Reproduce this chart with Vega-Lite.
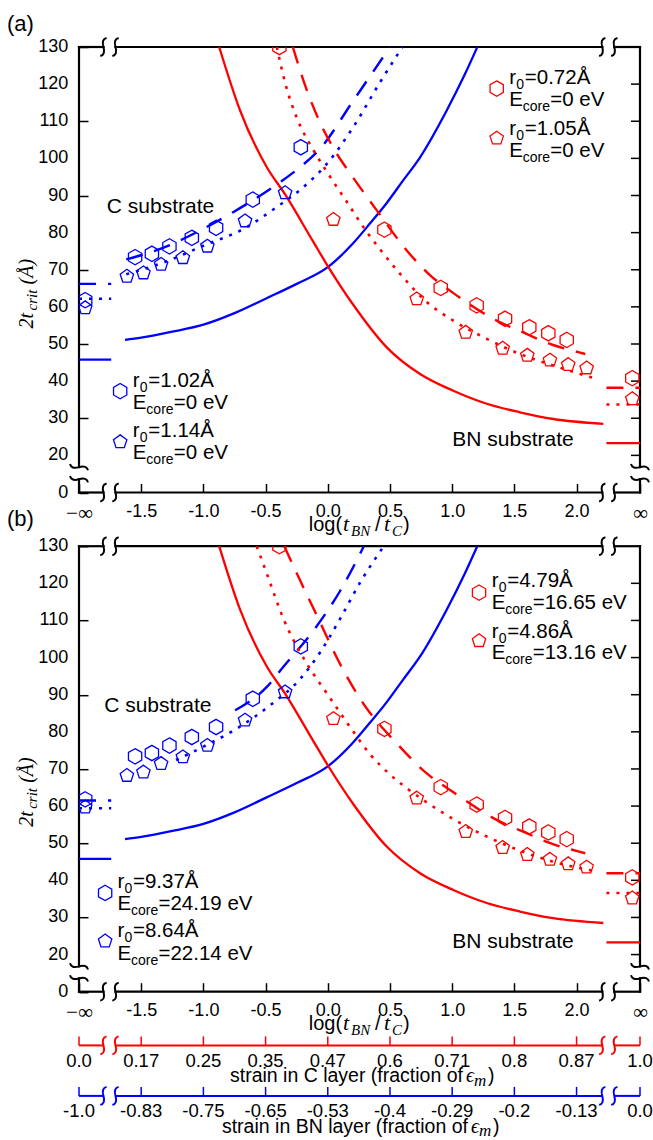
{
"$schema": "https://vega.github.io/schema/vega-lite/v6.json",
"autosize": {"type": "none"},
"padding": {"left": 79, "top": 47, "right": 574, "bottom": 1093},
"background": "white",
"config": {"view": {"stroke": null}},
"datasets": {
"frame": [
{"x1":-2,"x2":-1.803,"y1":10,"y2":10},{"x1":-1.707,"x2":2.207,"y1":10,"y2":10},{"x1":2.303,"x2":2.51,"y1":10,"y2":10},
{"x1":-2,"x2":-1.803,"y1":130,"y2":130},{"x1":-1.707,"x2":2.207,"y1":130,"y2":130},{"x1":2.303,"x2":2.51,"y1":130,"y2":130},
{"x1":-2,"x2":-2,"y1":10,"y2":13.6},{"x1":-2,"x2":-2,"y1":16.8,"y2":130},
{"x1":2.51,"x2":2.51,"y1":10,"y2":13.6},{"x1":2.51,"x2":2.51,"y1":16.8,"y2":130}],
"breaks": [{"x":-1.755,"y":10,"o":"h"},{"x":2.255,"y":10,"o":"h"},{"x":-1.755,"y":130,"o":"h"},{"x":2.255,"y":130,"o":"h"},{"x":-2,"y":15.2,"o":"v"},{"x":2.51,"y":15.2,"o":"v"}],
"rticks": [{"y":20},{"y":30},{"y":40},{"y":50},{"y":60},{"y":70},{"y":80},{"y":90},{"y":100},{"y":110},{"y":120}],
"ylab": [{"v":10,"t":"0"},{"v":20,"t":"20"},{"v":30,"t":"30"},{"v":40,"t":"40"},{"v":50,"t":"50"},{"v":60,"t":"60"},{"v":70,"t":"70"},{"v":80,"t":"80"},{"v":90,"t":"90"},{"v":100,"t":"100"},{"v":110,"t":"110"},{"v":120,"t":"120"},{"v":130,"t":"130"}],
"curves": [
{"p":"ab","s":"Cs","g":"C","st":"solid","x":-1.63,"y":51.1},{"p":"ab","s":"Cs","g":"C","st":"solid","x":-1.5,"y":51.7},{"p":"ab","s":"Cs","g":"C","st":"solid","x":-1.25,"y":53.3},{"p":"ab","s":"Cs","g":"C","st":"solid","x":-1.0,"y":55.2},{"p":"ab","s":"Cs","g":"C","st":"solid","x":-0.75,"y":58.3},{"p":"ab","s":"Cs","g":"C","st":"solid","x":-0.5,"y":62.2},{"p":"ab","s":"Cs","g":"C","st":"solid","x":-0.25,"y":66.2},{"p":"ab","s":"Cs","g":"C","st":"solid","x":0,"y":70.7},{"p":"ab","s":"Cs","g":"C","st":"solid","x":0.2,"y":77.0},{"p":"ab","s":"Cs","g":"C","st":"solid","x":0.34,"y":82.5},{"p":"ab","s":"Cs","g":"C","st":"solid","x":0.474,"y":88.0},{"p":"ab","s":"Cs","g":"C","st":"solid","x":0.6,"y":93.8},{"p":"ab","s":"Cs","g":"C","st":"solid","x":0.742,"y":100.3},{"p":"ab","s":"Cs","g":"C","st":"solid","x":0.956,"y":112.9},{"p":"ab","s":"Cs","g":"C","st":"solid","x":1.1,"y":122.5},{"p":"ab","s":"Cs","g":"C","st":"solid","x":1.202,"y":130},
{"p":"ab","s":"CsL","g":"C","st":"solid","x":-2,"y":45.8},{"p":"ab","s":"CsL","g":"C","st":"solid","x":-1.741,"y":45.8},
{"p":"ab","s":"Bs","g":"BN","st":"solid","x":-0.873,"y":130},{"p":"ab","s":"Bs","g":"BN","st":"solid","x":-0.705,"y":112.9},{"p":"ab","s":"Bs","g":"BN","st":"solid","x":-0.49,"y":97.6},{"p":"ab","s":"Bs","g":"BN","st":"solid","x":-0.343,"y":90.3},{"p":"ab","s":"Bs","g":"BN","st":"solid","x":-0.116,"y":77.5},{"p":"ab","s":"Bs","g":"BN","st":"solid","x":0,"y":71.0},{"p":"ab","s":"Bs","g":"BN","st":"solid","x":0.206,"y":60.5},{"p":"ab","s":"Bs","g":"BN","st":"solid","x":0.474,"y":49.1},{"p":"ab","s":"Bs","g":"BN","st":"solid","x":0.742,"y":41.9},{"p":"ab","s":"Bs","g":"BN","st":"solid","x":1.009,"y":37.4},{"p":"ab","s":"Bs","g":"BN","st":"solid","x":1.278,"y":33.9},{"p":"ab","s":"Bs","g":"BN","st":"solid","x":1.545,"y":31.6},{"p":"ab","s":"Bs","g":"BN","st":"solid","x":1.813,"y":29.8},{"p":"ab","s":"Bs","g":"BN","st":"solid","x":2.215,"y":28.5},
{"p":"ab","s":"BsR","g":"BN","st":"solid","x":2.24,"y":23.3},{"p":"ab","s":"BsR","g":"BN","st":"solid","x":2.51,"y":23.3},
{"p":"a","s":"CdA","g":"C","st":"dash","x":-1.62,"y":72.8},{"p":"a","s":"CdA","g":"C","st":"dash","x":-1.3,"y":76.2},{"p":"a","s":"CdA","g":"C","st":"dash","x":-1.026,"y":80.6},{"p":"a","s":"CdA","g":"C","st":"dash","x":-0.761,"y":85.5},{"p":"a","s":"CdA","g":"C","st":"dash","x":-0.383,"y":93.6},{"p":"a","s":"CdA","g":"C","st":"dash","x":-0.223,"y":97.6},{"p":"a","s":"CdA","g":"C","st":"dash","x":-0.062,"y":102.6},{"p":"a","s":"CdA","g":"C","st":"dash","x":0.206,"y":115.6},{"p":"a","s":"CdA","g":"C","st":"dash","x":0.5,"y":130},
{"p":"a","s":"CdLA","g":"C","st":"dash","x":-2,"y":66.2},{"p":"a","s":"CdLA","g":"C","st":"dash","x":-1.741,"y":66.2},
{"p":"a","s":"CtA","g":"C","st":"dot","x":-1.62,"y":68.8},{"p":"a","s":"CtA","g":"C","st":"dot","x":-1.3,"y":72.2},{"p":"a","s":"CtA","g":"C","st":"dot","x":-1.026,"y":76.1},{"p":"a","s":"CtA","g":"C","st":"dot","x":-0.651,"y":81.5},{"p":"a","s":"CtA","g":"C","st":"dot","x":-0.41,"y":86.9},{"p":"a","s":"CtA","g":"C","st":"dot","x":-0.223,"y":91.5},{"p":"a","s":"CtA","g":"C","st":"dot","x":-0.008,"y":98.5},{"p":"a","s":"CtA","g":"C","st":"dot","x":0.206,"y":108.5},{"p":"a","s":"CtA","g":"C","st":"dot","x":0.42,"y":120.5},{"p":"a","s":"CtA","g":"C","st":"dot","x":0.6,"y":130},
{"p":"a","s":"CtLA","g":"C","st":"dot","x":-2,"y":62.2},{"p":"a","s":"CtLA","g":"C","st":"dot","x":-1.741,"y":62.2},
{"p":"a","s":"BdA","g":"BN","st":"dash","x":-0.281,"y":130},{"p":"a","s":"BdA","g":"BN","st":"dash","x":-0.17,"y":118.5},{"p":"a","s":"BdA","g":"BN","st":"dash","x":-0.06,"y":109.5},{"p":"a","s":"BdA","g":"BN","st":"dash","x":0.05,"y":102.5},{"p":"a","s":"BdA","g":"BN","st":"dash","x":0.2,"y":95},{"p":"a","s":"BdA","g":"BN","st":"dash","x":0.394,"y":86},{"p":"a","s":"BdA","g":"BN","st":"dash","x":0.635,"y":75.2},{"p":"a","s":"BdA","g":"BN","st":"dash","x":0.81,"y":68.9},{"p":"a","s":"BdA","g":"BN","st":"dash","x":1.01,"y":63.7},{"p":"a","s":"BdA","g":"BN","st":"dash","x":1.358,"y":56.3},{"p":"a","s":"BdA","g":"BN","st":"dash","x":1.585,"y":52.9},{"p":"a","s":"BdA","g":"BN","st":"dash","x":1.805,"y":49.8},{"p":"a","s":"BdA","g":"BN","st":"dash","x":2.014,"y":47.8},{"p":"a","s":"BdA","g":"BN","st":"dash","x":2.07,"y":47.3},
{"p":"a","s":"BdRA","g":"BN","st":"dash","x":2.24,"y":38.2},{"p":"a","s":"BdRA","g":"BN","st":"dash","x":2.51,"y":38.2},
{"p":"a","s":"BtA","g":"BN","st":"dot","x":-0.41,"y":130},{"p":"a","s":"BtA","g":"BN","st":"dot","x":-0.34,"y":120},{"p":"a","s":"BtA","g":"BN","st":"dot","x":-0.25,"y":111},{"p":"a","s":"BtA","g":"BN","st":"dot","x":-0.12,"y":102.5},{"p":"a","s":"BtA","g":"BN","st":"dot","x":0,"y":96},{"p":"a","s":"BtA","g":"BN","st":"dot","x":0.153,"y":88.3},{"p":"a","s":"BtA","g":"BN","st":"dot","x":0.286,"y":81.5},{"p":"a","s":"BtA","g":"BN","st":"dot","x":0.42,"y":75.5},{"p":"a","s":"BtA","g":"BN","st":"dot","x":0.581,"y":68.9},{"p":"a","s":"BtA","g":"BN","st":"dot","x":0.796,"y":61.3},{"p":"a","s":"BtA","g":"BN","st":"dot","x":1.009,"y":56.3},{"p":"a","s":"BtA","g":"BN","st":"dot","x":1.278,"y":51.4},{"p":"a","s":"BtA","g":"BN","st":"dot","x":1.545,"y":47.3},{"p":"a","s":"BtA","g":"BN","st":"dot","x":1.813,"y":44.2},{"p":"a","s":"BtA","g":"BN","st":"dot","x":2.162,"y":40.6},
{"p":"a","s":"BtRA","g":"BN","st":"dot","x":2.24,"y":33.7},{"p":"a","s":"BtRA","g":"BN","st":"dot","x":2.51,"y":33.7},
{"p":"b","s":"CdB","g":"C","st":"dash","x":-0.745,"y":85.8},{"p":"b","s":"CdB","g":"C","st":"dash","x":-0.49,"y":92.1},{"p":"b","s":"CdB","g":"C","st":"dash","x":-0.357,"y":97.5},{"p":"b","s":"CdB","g":"C","st":"dash","x":-0.088,"y":108.5},{"p":"b","s":"CdB","g":"C","st":"dash","x":0.1,"y":118},{"p":"b","s":"CdB","g":"C","st":"dash","x":0.29,"y":130},
{"p":"b","s":"CdLB","g":"C","st":"dash","x":-2,"y":61.5},{"p":"b","s":"CdLB","g":"C","st":"dash","x":-1.741,"y":61.5},
{"p":"b","s":"CtB","g":"C","st":"dot","x":-1.22,"y":72.4},{"p":"b","s":"CtB","g":"C","st":"dot","x":-1.0,"y":76},{"p":"b","s":"CtB","g":"C","st":"dot","x":-0.75,"y":80.5},{"p":"b","s":"CtB","g":"C","st":"dot","x":-0.45,"y":87.5},{"p":"b","s":"CtB","g":"C","st":"dot","x":-0.22,"y":94.3},{"p":"b","s":"CtB","g":"C","st":"dot","x":-0.06,"y":101.5},{"p":"b","s":"CtB","g":"C","st":"dot","x":0.1,"y":110.5},{"p":"b","s":"CtB","g":"C","st":"dot","x":0.265,"y":120.5},{"p":"b","s":"CtB","g":"C","st":"dot","x":0.45,"y":130},
{"p":"b","s":"CtLB","g":"C","st":"dot","x":-2,"y":59.4},{"p":"b","s":"CtLB","g":"C","st":"dot","x":-1.741,"y":59.4},
{"p":"b","s":"BdB","g":"BN","st":"dash","x":-0.35,"y":130},{"p":"b","s":"BdB","g":"BN","st":"dash","x":-0.223,"y":120.8},{"p":"b","s":"BdB","g":"BN","st":"dash","x":-0.062,"y":109.5},{"p":"b","s":"BdB","g":"BN","st":"dash","x":0.072,"y":100},{"p":"b","s":"BdB","g":"BN","st":"dash","x":0.286,"y":87.6},{"p":"b","s":"BdB","g":"BN","st":"dash","x":0.554,"y":76.9},{"p":"b","s":"BdB","g":"BN","st":"dash","x":0.796,"y":68.8},{"p":"b","s":"BdB","g":"BN","st":"dash","x":1.01,"y":63.7},{"p":"b","s":"BdB","g":"BN","st":"dash","x":1.358,"y":56.3},{"p":"b","s":"BdB","g":"BN","st":"dash","x":1.585,"y":52.9},{"p":"b","s":"BdB","g":"BN","st":"dash","x":1.805,"y":49.8},{"p":"b","s":"BdB","g":"BN","st":"dash","x":2.014,"y":47.8},{"p":"b","s":"BdB","g":"BN","st":"dash","x":2.07,"y":47.3},
{"p":"b","s":"BdRB","g":"BN","st":"dash","x":2.24,"y":41.9},{"p":"b","s":"BdRB","g":"BN","st":"dash","x":2.51,"y":41.9},
{"p":"b","s":"BtB","g":"BN","st":"dot","x":-0.571,"y":130},{"p":"b","s":"BtB","g":"BN","st":"dot","x":-0.49,"y":122.6},{"p":"b","s":"BtB","g":"BN","st":"dot","x":-0.357,"y":110.5},{"p":"b","s":"BtB","g":"BN","st":"dot","x":-0.169,"y":98.4},{"p":"b","s":"BtB","g":"BN","st":"dot","x":0,"y":90},{"p":"b","s":"BtB","g":"BN","st":"dot","x":0.179,"y":81.3},{"p":"b","s":"BtB","g":"BN","st":"dot","x":0.339,"y":74},{"p":"b","s":"BtB","g":"BN","st":"dot","x":0.5,"y":68.5},{"p":"b","s":"BtB","g":"BN","st":"dot","x":0.635,"y":64.8},{"p":"b","s":"BtB","g":"BN","st":"dot","x":0.796,"y":61},{"p":"b","s":"BtB","g":"BN","st":"dot","x":1.009,"y":56.5},{"p":"b","s":"BtB","g":"BN","st":"dot","x":1.278,"y":51.8},{"p":"b","s":"BtB","g":"BN","st":"dot","x":1.545,"y":48},{"p":"b","s":"BtB","g":"BN","st":"dot","x":1.813,"y":45},{"p":"b","s":"BtB","g":"BN","st":"dot","x":2.162,"y":42.4},
{"p":"b","s":"BtRB","g":"BN","st":"dot","x":2.24,"y":36.6},{"p":"b","s":"BtRB","g":"BN","st":"dot","x":2.51,"y":36.6}
],
"pts": [
{"g":"C","sh":"hex","x":-1.549,"y":73.4},{"g":"C","sh":"hex","x":-1.414,"y":74.3},{"g":"C","sh":"hex","x":-1.273,"y":76.3},{"g":"C","sh":"hex","x":-1.093,"y":78.6},{"g":"C","sh":"hex","x":-0.898,"y":81.3},{"g":"C","sh":"hex","x":-0.603,"y":88.9},{"g":"C","sh":"hex","x":-0.217,"y":103.0},{"g":"C","sh":"hex","x":-1.95,"y":61.8},
{"g":"C","sh":"pent","x":-1.615,"y":68.4},{"g":"C","sh":"pent","x":-1.482,"y":69.3},{"g":"C","sh":"pent","x":-1.34,"y":71.6},{"g":"C","sh":"pent","x":-1.165,"y":73.4},{"g":"C","sh":"pent","x":-0.968,"y":76.5},{"g":"C","sh":"pent","x":-0.665,"y":83.3},{"g":"C","sh":"pent","x":-0.343,"y":90.9},{"g":"C","sh":"pent","x":-1.95,"y":59.9},
{"g":"BN","sh":"hex","x":-0.389,"y":130},{"g":"BN","sh":"hex","x":0.455,"y":80.8},{"g":"BN","sh":"hex","x":0.908,"y":65.1},{"g":"BN","sh":"hex","x":1.197,"y":60.4},{"g":"BN","sh":"hex","x":1.425,"y":56.8},{"g":"BN","sh":"hex","x":1.62,"y":54.5},{"g":"BN","sh":"hex","x":1.773,"y":52.9},{"g":"BN","sh":"hex","x":1.921,"y":51.1},{"g":"BN","sh":"hex","x":2.448,"y":40.8},
{"g":"BN","sh":"pent","x":0.045,"y":83.7},{"g":"BN","sh":"pent","x":0.715,"y":62.3},{"g":"BN","sh":"pent","x":1.109,"y":53.3},{"g":"BN","sh":"pent","x":1.406,"y":49.0},{"g":"BN","sh":"pent","x":1.604,"y":47.1},{"g":"BN","sh":"pent","x":1.786,"y":45.8},{"g":"BN","sh":"pent","x":1.933,"y":44.6},{"g":"BN","sh":"pent","x":2.081,"y":43.7},{"g":"BN","sh":"pent","x":2.448,"y":35.4}
],
"lgm": [
{"p":"a","g":"BN","sh":"hex","x":1.358,"y":118.8},{"p":"a","g":"BN","sh":"pent","x":1.358,"y":105.6},{"p":"a","g":"C","sh":"hex","x":-1.669,"y":37.3},{"p":"a","g":"C","sh":"pent","x":-1.669,"y":23.8},
{"p":"b","g":"BN","sh":"hex","x":1.216,"y":117.5},{"p":"b","g":"BN","sh":"pent","x":1.216,"y":104.7},{"p":"b","g":"C","sh":"hex","x":-1.79,"y":36.6},{"p":"b","g":"C","sh":"pent","x":-1.79,"y":23.8}
],
"lgt": [
{"p":"a","ln":1,"x":1.459,"y":120.1,"pre":"r","sb":"0","rest":"=0.72Å"},{"p":"a","ln":2,"x":1.459,"y":114.0,"pre":"E","sb":"core","rest":"=0 eV"},
{"p":"a","ln":1,"x":1.459,"y":106.2,"pre":"r","sb":"0","rest":"=1.05Å"},{"p":"a","ln":2,"x":1.459,"y":100.4,"pre":"E","sb":"core","rest":"=0 eV"},
{"p":"a","ln":1,"x":-1.567,"y":38.4,"pre":"r","sb":"0","rest":"=1.02Å"},{"p":"a","ln":2,"x":-1.567,"y":32.5,"pre":"E","sb":"core","rest":"=0 eV"},
{"p":"a","ln":1,"x":-1.567,"y":24.9,"pre":"r","sb":"0","rest":"=1.14Å"},{"p":"a","ln":2,"x":-1.567,"y":19.0,"pre":"E","sb":"core","rest":"=0 eV"},
{"p":"b","ln":1,"x":1.318,"y":119.0,"pre":"r","sb":"0","rest":"=4.79Å"},{"p":"b","ln":2,"x":1.318,"y":113.2,"pre":"E","sb":"core","rest":"=16.65 eV"},
{"p":"b","ln":1,"x":1.318,"y":105.4,"pre":"r","sb":"0","rest":"=4.86Å"},{"p":"b","ln":2,"x":1.318,"y":99.5,"pre":"E","sb":"core","rest":"=13.16 eV"},
{"p":"b","ln":1,"x":-1.691,"y":37.9,"pre":"r","sb":"0","rest":"=9.37Å"},{"p":"b","ln":2,"x":-1.691,"y":32.1,"pre":"E","sb":"core","rest":"=24.19 eV"},
{"p":"b","ln":1,"x":-1.691,"y":24.7,"pre":"r","sb":"0","rest":"=8.64Å"},{"p":"b","ln":2,"x":-1.691,"y":18.6,"pre":"E","sb":"core","rest":"=22.14 eV"}
],
"notes": [{"p":"a","x":-1.776,"y":85.4,"t":"C substrate"},{"p":"a","x":1.001,"y":22.4,"t":"BN substrate"},{"p":"b","x":-1.798,"y":85.4,"t":"C substrate"},{"p":"b","x":1.001,"y":21.8,"t":"BN substrate"}],
"sline": [{"x1":-2,"x2":-1.803},{"x1":-1.707,"x2":2.207},{"x1":2.303,"x2":2.51}],
"sbreak": [{"x":-1.755},{"x":2.255}],
"sticks": [{"x":-2,"c":"0.0","bn":"-1.0"},{"x":-1.5,"c":"0.17","bn":"-0.83"},{"x":-1,"c":"0.25","bn":"-0.75"},{"x":-0.5,"c":"0.35","bn":"-0.65"},{"x":0,"c":"0.47","bn":"-0.53"},{"x":0.5,"c":"0.6","bn":"-0.4"},{"x":1,"c":"0.71","bn":"-0.29"},{"x":1.5,"c":"0.8","bn":"-0.2"},{"x":2,"c":"0.87","bn":"-0.13"},{"x":2.51,"c":"1.0","bn":"0.0"}],
"one": [{}]
},
"vconcat": [
{"width": 561, "height": 445.5,
"layer": [
{"data":{"name":"frame"},"mark":{"type":"rule","color":"#000000","strokeWidth":2.2,"strokeCap":"square"},
"encoding":{
"x":{"field":"x1","type":"quantitative","scale":{"domain":[-2,2.51],"nice":false,"zero":false},
"axis":{"values":[-2,-1.5,-1,-0.5,0,0.5,1,1.5,2,2.51],"labelExpr":"datum.value < -1.9 ? '−∞' : datum.value > 2.4 ? '∞' : (datum.value < 0 ? '-' : '') + format(abs(datum.value), '.1f')","title":null,"domain":false,"grid":false,"tickSize":-9,"tickWidth":1.5,"tickColor":"#000000","labelFlush":false,"labelOverlap":false,"labelPadding":18.5,"labelFont":{"condition":{"test":"datum.value < -1.9 || datum.value > 2.4","value":"Liberation Serif"},"value":"Liberation Sans"},"labelFontSize":{"condition":{"test":"datum.value < -1.9 || datum.value > 2.4","value":21},"value":18},"labelColor":"#000000"}},
"x2":{"field":"x2"},
"y":{"field":"y1","type":"quantitative","scale":{"domain":[10,130],"nice":false,"zero":false},
"axis":{"values":[10,20,30,40,50,60,70,80,90,100,110,120,130],"labels":false,"title":null,"domain":false,"grid":false,"tickSize":-9,"tickWidth":1.5,"tickColor":"#000000"}},
"y2":{"field":"y2"}}},
{"data":{"name":"ylab"},"mark":{"type":"text","align":"right","baseline":"middle","dx":-10.7,"font":"Liberation Sans","fontSize":18,"color":"#000000"},"encoding":{"x":{"datum":-2},"y":{"field":"v","type":"quantitative"},"text":{"field":"t"}}},
{"data":{"name":"rticks"},"mark":{"type":"rule","color":"#000000","strokeWidth":1.5,"x2Offset":-9},"encoding":{"x":{"datum":2.51},"x2":{"datum":2.51},"y":{"field":"y","type":"quantitative"}}},
{"data":{"name":"curves"},"transform":[{"filter":"indexof(datum.p,'a')>=0 && datum.st=='solid'"}],"mark":{"type":"line","strokeWidth":2.3,"interpolate":"monotone"},
"encoding":{"x":{"field":"x","type":"quantitative"},"y":{"field":"y","type":"quantitative"},"color":{"field":"g","type":"nominal","scale":{"domain":["C","BN"],"range":["#0000ff","#ff0000"]},"legend":null},"detail":{"field":"s"}}},
{"data":{"name":"curves"},"transform":[{"filter":"indexof(datum.p,'a')>=0 && datum.st=='dash'"}],"mark":{"type":"line","strokeWidth":2.4,"strokeDash":[17,12],"interpolate":"monotone"},
"encoding":{"x":{"field":"x","type":"quantitative"},"y":{"field":"y","type":"quantitative"},"color":{"field":"g","type":"nominal","scale":{"domain":["C","BN"],"range":["#0000ff","#ff0000"]},"legend":null},"detail":{"field":"s"}}},
{"data":{"name":"curves"},"transform":[{"filter":"indexof(datum.p,'a')>=0 && datum.st=='dot'"}],"mark":{"type":"line","strokeWidth":2.6,"strokeDash":[3,7],"interpolate":"monotone"},
"encoding":{"x":{"field":"x","type":"quantitative"},"y":{"field":"y","type":"quantitative"},"color":{"field":"g","type":"nominal","scale":{"domain":["C","BN"],"range":["#0000ff","#ff0000"]},"legend":null},"detail":{"field":"s"}}},
{"data":{"name":"pts"},"mark":{"type":"point","filled":false,"strokeWidth":1.3,"size":235,"opacity":1,"clip":true},
"encoding":{"x":{"field":"x","type":"quantitative"},"y":{"field":"y","type":"quantitative"},"color":{"field":"g","type":"nominal","scale":{"domain":["C","BN"],"range":["#0000ff","#ff0000"]},"legend":null},
"shape":{"field":"sh","type":"nominal","scale":{"domain":["hex","pent"],"range":["M0,-1L0.866,-0.5L0.866,0.5L0,1L-0.866,0.5L-0.866,-0.5Z","M0,-0.832L0.875,-0.196L0.541,0.832L-0.541,0.832L-0.875,-0.196Z"]},"legend":null}}},
{"data":{"name":"lgm"},"transform":[{"filter":"datum.p=='a'"}],"mark":{"type":"point","filled":false,"strokeWidth":1.3,"size":235,"opacity":1},
"encoding":{"x":{"field":"x","type":"quantitative"},"y":{"field":"y","type":"quantitative"},"color":{"field":"g","type":"nominal","scale":{"domain":["C","BN"],"range":["#0000ff","#ff0000"]},"legend":null},
"shape":{"field":"sh","type":"nominal","scale":{"domain":["hex","pent"],"range":["M0,-1L0.866,-0.5L0.866,0.5L0,1L-0.866,0.5L-0.866,-0.5Z","M0,-0.832L0.875,-0.196L0.541,0.832L-0.541,0.832L-0.875,-0.196Z"]},"legend":null}}},
{"data":{"name":"lgt"},"transform":[{"filter":"datum.p=='a'"}],"mark":{"type":"text","align":"left","baseline":"alphabetic","font":"Liberation Sans","fontSize":20.5,"color":"#000000"},"encoding":{"x":{"field":"x","type":"quantitative"},"y":{"field":"y","type":"quantitative"},"text":{"field":"pre"}}},
{"data":{"name":"lgt"},"transform":[{"filter":"datum.p=='a' && datum.ln==1"}],"mark":{"type":"text","align":"left","baseline":"alphabetic","dx":7,"dy":5,"font":"Liberation Sans","fontSize":14,"color":"#000000"},"encoding":{"x":{"field":"x","type":"quantitative"},"y":{"field":"y","type":"quantitative"},"text":{"field":"sb"}}},
{"data":{"name":"lgt"},"transform":[{"filter":"datum.p=='a' && datum.ln==1"}],"mark":{"type":"text","align":"left","baseline":"alphabetic","dx":15.5,"font":"Liberation Sans","fontSize":20.5,"color":"#000000"},"encoding":{"x":{"field":"x","type":"quantitative"},"y":{"field":"y","type":"quantitative"},"text":{"field":"rest"}}},
{"data":{"name":"lgt"},"transform":[{"filter":"datum.p=='a' && datum.ln==2"}],"mark":{"type":"text","align":"left","baseline":"alphabetic","dx":13.5,"dy":5,"font":"Liberation Sans","fontSize":14,"color":"#000000"},"encoding":{"x":{"field":"x","type":"quantitative"},"y":{"field":"y","type":"quantitative"},"text":{"field":"sb"}}},
{"data":{"name":"lgt"},"transform":[{"filter":"datum.p=='a' && datum.ln==2"}],"mark":{"type":"text","align":"left","baseline":"alphabetic","dx":41,"font":"Liberation Sans","fontSize":20.5,"color":"#000000"},"encoding":{"x":{"field":"x","type":"quantitative"},"y":{"field":"y","type":"quantitative"},"text":{"field":"rest"}}},
{"data":{"name":"notes"},"transform":[{"filter":"datum.p=='a'"}],"mark":{"type":"text","align":"left","baseline":"alphabetic","font":"Liberation Sans","fontSize":21,"color":"#000000"},"encoding":{"x":{"field":"x","type":"quantitative"},"y":{"field":"y","type":"quantitative"},"text":{"field":"t"}}},
{"data":{"name":"breaks"},"transform":[{"filter":"datum.o=='h'"}],"mark":{"type":"point","shape":"M1.02,-1Q0.42,-0.85,0.67,0Q0.92,0.85,0.32,1M-0.32,-1Q-0.92,-0.85,-0.67,0Q-0.42,0.85,-1.02,1","filled":false,"stroke":"#000000","strokeWidth":2,"size":324,"opacity":1},"encoding":{"x":{"field":"x","type":"quantitative"},"y":{"field":"y","type":"quantitative"}}},
{"data":{"name":"breaks"},"transform":[{"filter":"datum.o=='v'"}],"mark":{"type":"point","angle":90,"shape":"M1.02,-1Q0.42,-0.85,0.67,0Q0.92,0.85,0.32,1M-0.32,-1Q-0.92,-0.85,-0.67,0Q-0.42,0.85,-1.02,1","filled":false,"stroke":"#000000","strokeWidth":2,"size":324,"opacity":1},"encoding":{"x":{"field":"x","type":"quantitative"},"y":{"field":"y","type":"quantitative"}}},
{"data":{"name":"one"},"mark":{"type":"text","text":"(a)","align":"left","baseline":"middle","dx":-72,"dy":-23,"font":"Liberation Sans","fontSize":22,"color":"#000000"},"encoding":{"x":{"datum":-2},"y":{"datum":130}}},
{"data":{"name":"one"},"mark":{"type":"text","text":"2t","angle":270,"align":"left","baseline":"middle","dy":-52,"font":"Liberation Serif","fontStyle":"italic","fontSize":20,"color":"#000000"},"encoding":{"x":{"datum":-2},"y":{"datum":54.2}}},
{"data":{"name":"one"},"mark":{"type":"text","text":"crit","angle":270,"align":"left","baseline":"middle","dx":18,"dy":-47,"font":"Liberation Serif","fontStyle":"italic","fontSize":15,"color":"#000000"},"encoding":{"x":{"datum":-2},"y":{"datum":54.2}}},
{"data":{"name":"one"},"mark":{"type":"text","text":"(Å)","angle":270,"align":"left","baseline":"middle","dx":44,"dy":-52,"font":"Liberation Serif","fontStyle":"italic","fontSize":20,"color":"#000000"},"encoding":{"x":{"datum":-2},"y":{"datum":54.2}}},
{"data":{"name":"one"},"mark":{"type":"text","text":"log(","align":"right","baseline":"alphabetic","dy":38,"font":"Liberation Sans","fontSize":20,"color":"#000000"},"encoding":{"x":{"datum":0.115},"y":{"datum":10}}},
{"data":{"name":"one"},"mark":{"type":"text","text":"t","align":"left","baseline":"alphabetic","dx":1,"dy":38,"font":"Liberation Serif","fontStyle":"italic","fontSize":22,"color":"#000000"},"encoding":{"x":{"datum":0.115},"y":{"datum":10}}},
{"data":{"name":"one"},"mark":{"type":"text","text":"BN","align":"left","baseline":"alphabetic","dx":9,"dy":43,"font":"Liberation Serif","fontStyle":"italic","fontSize":15,"color":"#000000"},"encoding":{"x":{"datum":0.115},"y":{"datum":10}}},
{"data":{"name":"one"},"mark":{"type":"text","text":"/","align":"left","baseline":"alphabetic","dx":33,"dy":38,"font":"Liberation Sans","fontSize":20,"color":"#000000"},"encoding":{"x":{"datum":0.115},"y":{"datum":10}}},
{"data":{"name":"one"},"mark":{"type":"text","text":"t","align":"left","baseline":"alphabetic","dx":42,"dy":38,"font":"Liberation Serif","fontStyle":"italic","fontSize":22,"color":"#000000"},"encoding":{"x":{"datum":0.115},"y":{"datum":10}}},
{"data":{"name":"one"},"mark":{"type":"text","text":"C","align":"left","baseline":"alphabetic","dx":50,"dy":43,"font":"Liberation Serif","fontStyle":"italic","fontSize":15,"color":"#000000"},"encoding":{"x":{"datum":0.115},"y":{"datum":10}}},
{"data":{"name":"one"},"mark":{"type":"text","text":")","align":"left","baseline":"alphabetic","dx":61,"dy":38,"font":"Liberation Sans","fontSize":20,"color":"#000000"},"encoding":{"x":{"datum":0.115},"y":{"datum":10}}}
]},
{"width": 561, "height": 445.5,
"layer": [
{"data":{"name":"frame"},"mark":{"type":"rule","color":"#000000","strokeWidth":2.2,"strokeCap":"square"},
"encoding":{
"x":{"field":"x1","type":"quantitative","scale":{"domain":[-2,2.51],"nice":false,"zero":false},
"axis":{"values":[-2,-1.5,-1,-0.5,0,0.5,1,1.5,2,2.51],"labelExpr":"datum.value < -1.9 ? '−∞' : datum.value > 2.4 ? '∞' : (datum.value < 0 ? '-' : '') + format(abs(datum.value), '.1f')","title":null,"domain":false,"grid":false,"tickSize":-9,"tickWidth":1.5,"tickColor":"#000000","labelFlush":false,"labelOverlap":false,"labelPadding":18.5,"labelFont":{"condition":{"test":"datum.value < -1.9 || datum.value > 2.4","value":"Liberation Serif"},"value":"Liberation Sans"},"labelFontSize":{"condition":{"test":"datum.value < -1.9 || datum.value > 2.4","value":21},"value":18},"labelColor":"#000000"}},
"x2":{"field":"x2"},
"y":{"field":"y1","type":"quantitative","scale":{"domain":[10,130],"nice":false,"zero":false},
"axis":{"values":[10,20,30,40,50,60,70,80,90,100,110,120,130],"labels":false,"title":null,"domain":false,"grid":false,"tickSize":-9,"tickWidth":1.5,"tickColor":"#000000"}},
"y2":{"field":"y2"}}},
{"data":{"name":"ylab"},"mark":{"type":"text","align":"right","baseline":"middle","dx":-10.7,"font":"Liberation Sans","fontSize":18,"color":"#000000"},"encoding":{"x":{"datum":-2},"y":{"field":"v","type":"quantitative"},"text":{"field":"t"}}},
{"data":{"name":"rticks"},"mark":{"type":"rule","color":"#000000","strokeWidth":1.5,"x2Offset":-9},"encoding":{"x":{"datum":2.51},"x2":{"datum":2.51},"y":{"field":"y","type":"quantitative"}}},
{"data":{"name":"curves"},"transform":[{"filter":"indexof(datum.p,'b')>=0 && datum.st=='solid'"}],"mark":{"type":"line","strokeWidth":2.3,"interpolate":"monotone"},
"encoding":{"x":{"field":"x","type":"quantitative"},"y":{"field":"y","type":"quantitative"},"color":{"field":"g","type":"nominal","scale":{"domain":["C","BN"],"range":["#0000ff","#ff0000"]},"legend":null},"detail":{"field":"s"}}},
{"data":{"name":"curves"},"transform":[{"filter":"indexof(datum.p,'b')>=0 && datum.st=='dash'"}],"mark":{"type":"line","strokeWidth":2.4,"strokeDash":[17,12],"interpolate":"monotone"},
"encoding":{"x":{"field":"x","type":"quantitative"},"y":{"field":"y","type":"quantitative"},"color":{"field":"g","type":"nominal","scale":{"domain":["C","BN"],"range":["#0000ff","#ff0000"]},"legend":null},"detail":{"field":"s"}}},
{"data":{"name":"curves"},"transform":[{"filter":"indexof(datum.p,'b')>=0 && datum.st=='dot'"}],"mark":{"type":"line","strokeWidth":2.6,"strokeDash":[3,7],"interpolate":"monotone"},
"encoding":{"x":{"field":"x","type":"quantitative"},"y":{"field":"y","type":"quantitative"},"color":{"field":"g","type":"nominal","scale":{"domain":["C","BN"],"range":["#0000ff","#ff0000"]},"legend":null},"detail":{"field":"s"}}},
{"data":{"name":"pts"},"mark":{"type":"point","filled":false,"strokeWidth":1.3,"size":235,"opacity":1,"clip":true},
"encoding":{"x":{"field":"x","type":"quantitative"},"y":{"field":"y","type":"quantitative"},"color":{"field":"g","type":"nominal","scale":{"domain":["C","BN"],"range":["#0000ff","#ff0000"]},"legend":null},
"shape":{"field":"sh","type":"nominal","scale":{"domain":["hex","pent"],"range":["M0,-1L0.866,-0.5L0.866,0.5L0,1L-0.866,0.5L-0.866,-0.5Z","M0,-0.832L0.875,-0.196L0.541,0.832L-0.541,0.832L-0.875,-0.196Z"]},"legend":null}}},
{"data":{"name":"lgm"},"transform":[{"filter":"datum.p=='b'"}],"mark":{"type":"point","filled":false,"strokeWidth":1.3,"size":235,"opacity":1},
"encoding":{"x":{"field":"x","type":"quantitative"},"y":{"field":"y","type":"quantitative"},"color":{"field":"g","type":"nominal","scale":{"domain":["C","BN"],"range":["#0000ff","#ff0000"]},"legend":null},
"shape":{"field":"sh","type":"nominal","scale":{"domain":["hex","pent"],"range":["M0,-1L0.866,-0.5L0.866,0.5L0,1L-0.866,0.5L-0.866,-0.5Z","M0,-0.832L0.875,-0.196L0.541,0.832L-0.541,0.832L-0.875,-0.196Z"]},"legend":null}}},
{"data":{"name":"lgt"},"transform":[{"filter":"datum.p=='b'"}],"mark":{"type":"text","align":"left","baseline":"alphabetic","font":"Liberation Sans","fontSize":20.5,"color":"#000000"},"encoding":{"x":{"field":"x","type":"quantitative"},"y":{"field":"y","type":"quantitative"},"text":{"field":"pre"}}},
{"data":{"name":"lgt"},"transform":[{"filter":"datum.p=='b' && datum.ln==1"}],"mark":{"type":"text","align":"left","baseline":"alphabetic","dx":7,"dy":5,"font":"Liberation Sans","fontSize":14,"color":"#000000"},"encoding":{"x":{"field":"x","type":"quantitative"},"y":{"field":"y","type":"quantitative"},"text":{"field":"sb"}}},
{"data":{"name":"lgt"},"transform":[{"filter":"datum.p=='b' && datum.ln==1"}],"mark":{"type":"text","align":"left","baseline":"alphabetic","dx":15.5,"font":"Liberation Sans","fontSize":20.5,"color":"#000000"},"encoding":{"x":{"field":"x","type":"quantitative"},"y":{"field":"y","type":"quantitative"},"text":{"field":"rest"}}},
{"data":{"name":"lgt"},"transform":[{"filter":"datum.p=='b' && datum.ln==2"}],"mark":{"type":"text","align":"left","baseline":"alphabetic","dx":13.5,"dy":5,"font":"Liberation Sans","fontSize":14,"color":"#000000"},"encoding":{"x":{"field":"x","type":"quantitative"},"y":{"field":"y","type":"quantitative"},"text":{"field":"sb"}}},
{"data":{"name":"lgt"},"transform":[{"filter":"datum.p=='b' && datum.ln==2"}],"mark":{"type":"text","align":"left","baseline":"alphabetic","dx":41,"font":"Liberation Sans","fontSize":20.5,"color":"#000000"},"encoding":{"x":{"field":"x","type":"quantitative"},"y":{"field":"y","type":"quantitative"},"text":{"field":"rest"}}},
{"data":{"name":"notes"},"transform":[{"filter":"datum.p=='b'"}],"mark":{"type":"text","align":"left","baseline":"alphabetic","font":"Liberation Sans","fontSize":21,"color":"#000000"},"encoding":{"x":{"field":"x","type":"quantitative"},"y":{"field":"y","type":"quantitative"},"text":{"field":"t"}}},
{"data":{"name":"breaks"},"transform":[{"filter":"datum.o=='h'"}],"mark":{"type":"point","shape":"M1.02,-1Q0.42,-0.85,0.67,0Q0.92,0.85,0.32,1M-0.32,-1Q-0.92,-0.85,-0.67,0Q-0.42,0.85,-1.02,1","filled":false,"stroke":"#000000","strokeWidth":2,"size":324,"opacity":1},"encoding":{"x":{"field":"x","type":"quantitative"},"y":{"field":"y","type":"quantitative"}}},
{"data":{"name":"breaks"},"transform":[{"filter":"datum.o=='v'"}],"mark":{"type":"point","angle":90,"shape":"M1.02,-1Q0.42,-0.85,0.67,0Q0.92,0.85,0.32,1M-0.32,-1Q-0.92,-0.85,-0.67,0Q-0.42,0.85,-1.02,1","filled":false,"stroke":"#000000","strokeWidth":2,"size":324,"opacity":1},"encoding":{"x":{"field":"x","type":"quantitative"},"y":{"field":"y","type":"quantitative"}}},
{"data":{"name":"one"},"mark":{"type":"text","text":"(b)","align":"left","baseline":"middle","dx":-72,"dy":-27,"font":"Liberation Sans","fontSize":22,"color":"#000000"},"encoding":{"x":{"datum":-2},"y":{"datum":130}}},
{"data":{"name":"one"},"mark":{"type":"text","text":"2t","angle":270,"align":"left","baseline":"middle","dy":-52,"font":"Liberation Serif","fontStyle":"italic","fontSize":20,"color":"#000000"},"encoding":{"x":{"datum":-2},"y":{"datum":54.4}}},
{"data":{"name":"one"},"mark":{"type":"text","text":"crit","angle":270,"align":"left","baseline":"middle","dx":18,"dy":-47,"font":"Liberation Serif","fontStyle":"italic","fontSize":15,"color":"#000000"},"encoding":{"x":{"datum":-2},"y":{"datum":54.4}}},
{"data":{"name":"one"},"mark":{"type":"text","text":"(Å)","angle":270,"align":"left","baseline":"middle","dx":44,"dy":-52,"font":"Liberation Serif","fontStyle":"italic","fontSize":20,"color":"#000000"},"encoding":{"x":{"datum":-2},"y":{"datum":54.4}}},
{"data":{"name":"one"},"mark":{"type":"text","text":"log(","align":"right","baseline":"alphabetic","dy":38,"font":"Liberation Sans","fontSize":20,"color":"#000000"},"encoding":{"x":{"datum":0.115},"y":{"datum":10}}},
{"data":{"name":"one"},"mark":{"type":"text","text":"t","align":"left","baseline":"alphabetic","dx":1,"dy":38,"font":"Liberation Serif","fontStyle":"italic","fontSize":22,"color":"#000000"},"encoding":{"x":{"datum":0.115},"y":{"datum":10}}},
{"data":{"name":"one"},"mark":{"type":"text","text":"BN","align":"left","baseline":"alphabetic","dx":9,"dy":43,"font":"Liberation Serif","fontStyle":"italic","fontSize":15,"color":"#000000"},"encoding":{"x":{"datum":0.115},"y":{"datum":10}}},
{"data":{"name":"one"},"mark":{"type":"text","text":"/","align":"left","baseline":"alphabetic","dx":33,"dy":38,"font":"Liberation Sans","fontSize":20,"color":"#000000"},"encoding":{"x":{"datum":0.115},"y":{"datum":10}}},
{"data":{"name":"one"},"mark":{"type":"text","text":"t","align":"left","baseline":"alphabetic","dx":42,"dy":38,"font":"Liberation Serif","fontStyle":"italic","fontSize":22,"color":"#000000"},"encoding":{"x":{"datum":0.115},"y":{"datum":10}}},
{"data":{"name":"one"},"mark":{"type":"text","text":"C","align":"left","baseline":"alphabetic","dx":50,"dy":43,"font":"Liberation Serif","fontStyle":"italic","fontSize":15,"color":"#000000"},"encoding":{"x":{"datum":0.115},"y":{"datum":10}}},
{"data":{"name":"one"},"mark":{"type":"text","text":")","align":"left","baseline":"alphabetic","dx":61,"dy":38,"font":"Liberation Sans","fontSize":20,"color":"#000000"},"encoding":{"x":{"datum":0.115},"y":{"datum":10}}}
]},
{"width": 561, "height": 50.5,
"layer": [
{"data":{"name":"sline"},"mark":{"type":"rule","color":"#ff0000","strokeWidth":2},"encoding":{"x":{"field":"x1","type":"quantitative","scale":{"domain":[-2,2.51],"nice":false,"zero":false},"axis":null},"x2":{"field":"x2"},"y":{"datum":1,"type":"quantitative","scale":{"domain":[0,1],"nice":false,"zero":false},"axis":null}}},
{"data":{"name":"sline"},"mark":{"type":"rule","color":"#0000ff","strokeWidth":2},"encoding":{"x":{"field":"x1","type":"quantitative"},"x2":{"field":"x2"},"y":{"datum":0,"type":"quantitative"}}},
{"data":{"name":"sticks"},"mark":{"type":"rule","color":"#ff0000","strokeWidth":1.5,"y2Offset":-9},"encoding":{"x":{"field":"x","type":"quantitative"},"y":{"datum":1,"type":"quantitative"},"y2":{"datum":1}}},
{"data":{"name":"sticks"},"mark":{"type":"rule","color":"#0000ff","strokeWidth":1.5,"y2Offset":-9},"encoding":{"x":{"field":"x","type":"quantitative"},"y":{"datum":0,"type":"quantitative"},"y2":{"datum":0}}},
{"data":{"name":"sbreak"},"mark":{"type":"point","shape":"M1.02,-1Q0.42,-0.85,0.67,0Q0.92,0.85,0.32,1M-0.32,-1Q-0.92,-0.85,-0.67,0Q-0.42,0.85,-1.02,1","filled":false,"stroke":"#ff0000","strokeWidth":2,"size":324,"opacity":1},"encoding":{"x":{"field":"x","type":"quantitative"},"y":{"datum":1,"type":"quantitative"}}},
{"data":{"name":"sbreak"},"mark":{"type":"point","shape":"M1.02,-1Q0.42,-0.85,0.67,0Q0.92,0.85,0.32,1M-0.32,-1Q-0.92,-0.85,-0.67,0Q-0.42,0.85,-1.02,1","filled":false,"stroke":"#0000ff","strokeWidth":2,"size":324,"opacity":1},"encoding":{"x":{"field":"x","type":"quantitative"},"y":{"datum":0,"type":"quantitative"}}},
{"data":{"name":"sticks"},"mark":{"type":"text","align":"center","baseline":"alphabetic","dy":21.5,"font":"Liberation Sans","fontSize":18.5,"color":"#000000"},"encoding":{"x":{"field":"x","type":"quantitative"},"y":{"datum":1,"type":"quantitative"},"text":{"field":"c"}}},
{"data":{"name":"sticks"},"mark":{"type":"text","align":"center","baseline":"alphabetic","dy":21,"font":"Liberation Sans","fontSize":18.5,"color":"#000000"},"encoding":{"x":{"field":"x","type":"quantitative"},"y":{"datum":0,"type":"quantitative"},"text":{"field":"bn"}}},
{"data":{"name":"one"},"mark":{"type":"text","text":"strain in C layer (fraction of","align":"right","baseline":"alphabetic","dy":37,"font":"Liberation Sans","fontSize":19.5,"color":"#000000"},"encoding":{"x":{"datum":1.087},"y":{"datum":1}}},
{"data":{"name":"one"},"mark":{"type":"text","text":"ϵ","align":"left","baseline":"alphabetic","dx":3,"dy":37,"font":"Liberation Serif","fontStyle":"italic","fontSize":20,"color":"#000000"},"encoding":{"x":{"datum":1.087},"y":{"datum":1}}},
{"data":{"name":"one"},"mark":{"type":"text","text":"m","align":"left","baseline":"alphabetic","dx":11,"dy":40.5,"font":"Liberation Serif","fontStyle":"italic","fontSize":17,"color":"#000000"},"encoding":{"x":{"datum":1.087},"y":{"datum":1}}},
{"data":{"name":"one"},"mark":{"type":"text","text":")","align":"left","baseline":"alphabetic","dx":25,"dy":37,"font":"Liberation Sans","fontSize":19.5,"color":"#000000"},"encoding":{"x":{"datum":1.087},"y":{"datum":1}}},
{"data":{"name":"one"},"mark":{"type":"text","text":"strain in BN layer (fraction of","align":"right","baseline":"alphabetic","dy":37.5,"font":"Liberation Sans","fontSize":19.5,"color":"#000000"},"encoding":{"x":{"datum":1.127},"y":{"datum":0}}},
{"data":{"name":"one"},"mark":{"type":"text","text":"ϵ","align":"left","baseline":"alphabetic","dx":3,"dy":37.5,"font":"Liberation Serif","fontStyle":"italic","fontSize":20,"color":"#000000"},"encoding":{"x":{"datum":1.127},"y":{"datum":0}}},
{"data":{"name":"one"},"mark":{"type":"text","text":"m","align":"left","baseline":"alphabetic","dx":11,"dy":40.5,"font":"Liberation Serif","fontStyle":"italic","fontSize":17,"color":"#000000"},"encoding":{"x":{"datum":1.127},"y":{"datum":0}}},
{"data":{"name":"one"},"mark":{"type":"text","text":")","align":"left","baseline":"alphabetic","dx":25,"dy":37.5,"font":"Liberation Sans","fontSize":19.5,"color":"#000000"},"encoding":{"x":{"datum":1.127},"y":{"datum":0}}}
]}
],
"spacing": 53.2,
"bounds": "flush"
}
